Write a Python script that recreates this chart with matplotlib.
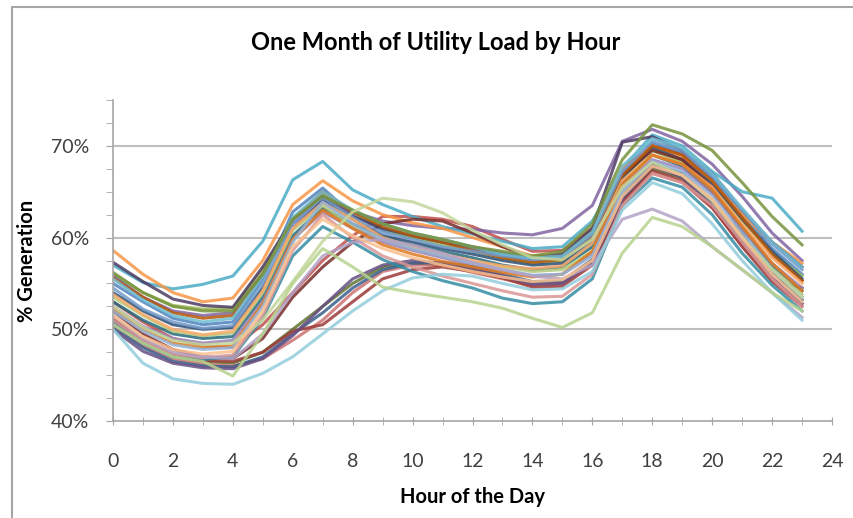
import matplotlib
matplotlib.use("Agg")
import matplotlib.pyplot as plt
from matplotlib.patches import Rectangle
from matplotlib.ticker import MultipleLocator, FuncFormatter

hours = list(range(24))

# Daily load profiles (% of generation), one list per day
day01 = [55.0,53.0,51.2,50.5,50.8,55.5,62.8,65.4,62.5,60.8,60.0,59.5,58.8,58.0,57.5,57.8,60.0,67.0,70.3,69.2,66.5,62.5,58.8,56.0]
day02 = [53.0,50.8,49.0,48.2,48.0,50.5,54.0,57.5,60.2,62.3,62.3,62.0,61.2,59.8,58.5,58.6,61.0,67.5,70.0,69.0,66.0,62.0,58.0,55.3]
day03 = [56.0,54.0,52.6,52.2,52.3,56.5,62.0,64.8,62.8,61.0,60.0,59.2,58.5,57.8,57.2,57.5,60.0,66.5,69.5,68.2,65.5,61.8,58.3,55.8]
day04 = [55.8,53.5,52.0,51.5,51.8,56.0,61.5,64.2,62.8,61.8,61.3,61.0,60.9,60.5,60.3,61.0,63.5,70.5,71.8,70.5,68.0,64.5,60.5,57.5]
day05 = [57.0,55.1,54.4,54.9,55.8,59.6,66.3,68.3,65.2,63.6,62.3,61.2,60.4,59.6,58.8,59.0,61.8,67.5,71.2,70.0,67.2,65.0,64.3,60.7]
day06 = [58.6,56.0,54.0,53.0,53.4,57.5,63.6,66.2,64.0,62.5,61.6,61.0,60.0,59.0,58.0,58.2,61.0,67.5,70.0,68.8,66.0,62.5,59.5,57.2]
day07 = [54.0,52.0,50.5,50.0,50.2,54.5,61.0,64.0,62.0,60.2,59.5,58.8,58.2,57.5,57.0,57.2,59.5,66.5,69.8,68.5,65.8,62.0,58.5,55.5]
day08 = [52.0,49.5,47.8,47.0,46.8,49.0,53.5,56.8,59.5,61.5,62.0,61.8,60.5,59.0,57.8,58.0,60.5,66.8,69.5,68.5,65.5,60.5,55.4,54.5]
day09 = [51.0,48.5,47.0,46.5,46.3,47.5,50.0,52.5,55.0,56.8,57.2,57.0,56.5,55.8,55.0,55.2,57.5,64.0,67.5,66.5,63.8,60.0,56.5,53.5]
day10 = [57.3,55.2,53.3,52.6,52.4,56.8,62.0,64.5,62.3,61.0,60.2,59.5,59.0,58.3,57.8,58.2,61.0,70.4,71.0,69.5,67.0,63.0,59.5,56.8]
day11 = [53.0,51.0,49.5,49.0,49.2,53.5,60.2,63.2,61.5,60.0,59.2,58.5,57.8,57.0,56.5,56.8,59.0,66.0,69.0,67.8,65.0,61.0,57.0,54.2]
day12 = [55.6,53.5,51.8,51.2,51.5,56.0,62.0,65.0,62.8,61.2,60.2,59.5,58.6,57.8,57.3,57.6,60.2,66.8,70.0,69.0,66.2,62.2,58.2,55.3]
day13 = [54.5,52.2,50.8,50.1,50.4,55.0,61.5,64.4,62.2,60.5,59.8,59.0,58.5,58.0,57.6,57.8,60.3,67.2,70.5,69.5,66.8,63.0,59.3,56.5]
day14 = [50.5,48.2,46.8,46.2,46.0,46.8,48.8,51.0,54.0,56.3,57.0,57.0,56.2,55.5,54.8,55.0,57.2,63.8,67.0,66.0,63.2,59.2,55.5,52.8]
day15 = [53.5,51.5,49.8,49.3,49.6,54.0,60.8,63.5,61.2,59.8,58.8,58.0,57.3,56.8,56.3,56.5,58.5,65.0,68.0,66.8,64.0,60.2,56.6,53.8]
day16 = [52.5,50.3,49.0,48.5,48.8,53.0,59.8,62.8,61.0,59.5,58.6,57.8,57.0,56.4,55.8,56.0,58.2,65.5,68.5,67.5,64.8,61.0,57.2,54.5]
day17 = [55.5,53.2,51.5,50.8,51.2,55.8,62.2,65.0,63.0,61.5,60.5,59.8,59.0,58.2,57.8,58.0,60.6,67.8,70.8,69.8,67.0,63.2,59.5,56.8]
day18 = [53.8,51.6,50.0,49.4,49.8,54.2,61.0,63.8,62.0,60.0,59.0,58.2,57.5,56.9,56.6,56.9,59.4,66.2,69.0,68.0,65.5,61.5,57.8,55.0]
day19 = [50.2,48.0,46.5,46.0,45.9,47.0,49.5,51.8,54.5,56.5,57.2,57.3,56.8,56.0,55.2,55.3,57.6,64.5,68.0,67.0,64.0,60.0,56.3,53.2]
day20 = [51.2,48.8,47.2,46.6,46.5,47.5,49.8,50.5,53.0,55.5,56.5,56.8,56.3,55.6,54.6,54.7,57.0,63.8,67.3,66.2,63.3,59.0,55.2,52.5]
day21 = [56.2,54.0,52.5,52.0,52.0,56.0,62.0,64.5,63.0,61.5,60.5,59.8,59.0,58.5,58.0,58.5,61.5,68.5,72.3,71.3,69.5,66.0,62.3,59.2]
day22 = [50.0,47.6,46.3,45.8,45.7,46.8,49.3,52.5,55.5,57.0,57.5,57.2,56.6,55.8,54.9,55.0,57.3,64.2,67.8,66.6,63.6,59.6,55.8,52.8]
day23 = [50.8,48.5,47.0,46.7,47.0,51.2,58.0,61.2,59.5,57.6,56.3,55.3,54.5,53.4,52.8,53.0,55.5,63.5,66.5,65.5,62.5,58.3,54.8,52.0]
day24 = [52.3,50.0,48.5,48.0,48.2,52.8,59.8,63.0,61.0,59.2,58.2,57.4,56.8,56.2,55.7,56.0,58.5,65.8,69.0,68.0,65.2,61.2,57.2,54.2]
day25 = [52.0,49.8,48.3,47.8,48.0,52.5,59.5,63.9,61.5,59.8,58.8,58.0,57.2,56.5,55.9,56.0,58.0,65.0,68.3,67.2,64.5,60.5,56.5,53.5]
day26 = [51.0,48.8,47.3,46.9,47.2,51.5,58.6,62.5,60.0,58.0,56.8,55.8,55.0,54.2,53.5,53.6,56.0,63.5,67.0,66.0,63.5,59.5,55.5,52.5]
day27 = [52.5,50.2,48.8,48.3,48.5,51.0,55.2,59.6,62.8,64.3,63.9,62.7,60.8,59.2,57.8,57.6,59.8,65.5,68.2,66.8,64.0,60.0,56.5,53.5]
day28 = [51.5,49.0,47.5,47.0,46.8,49.5,54.0,58.0,59.5,59.8,59.2,58.3,57.3,56.5,55.8,55.5,57.0,62.0,63.1,61.8,59.0,56.5,54.0,51.3]
day29 = [50.0,46.3,44.6,44.1,44.0,45.2,47.0,49.5,52.0,54.2,55.6,56.0,55.8,55.0,54.3,54.4,56.3,63.0,66.0,64.8,61.5,57.5,54.0,51.0]
day30 = [51.5,49.2,47.8,47.3,47.6,52.0,59.0,62.0,60.2,58.8,57.8,57.0,56.3,55.7,55.2,55.4,57.5,64.5,67.8,66.8,64.2,60.0,56.0,53.0]
day31 = [50.5,48.5,47.0,46.5,44.9,49.5,55.0,58.8,56.8,54.6,54.0,53.5,53.0,52.3,51.2,50.2,51.8,58.3,62.2,61.2,59.0,56.5,54.0,52.0]

days = [day01, day02, day03, day04, day05, day06, day07, day08, day09, day10,
        day11, day12, day13, day14, day15, day16, day17, day18, day19, day20,
        day21, day22, day23, day24, day25, day26, day27, day28, day29, day30, day31]

colors = ["#4F81BD", "#C0504D", "#9BBB59", "#8064A2", "#4BACC6", "#F79646",
          "#2C4D75", "#772C2A", "#5F7530", "#4D3B62", "#276A7C", "#B65708",
          "#729ACA", "#CD7371", "#AFC97A", "#9983B5", "#6FBDD1", "#F9AB6B",
          "#3A5F8B", "#9C3A38", "#77933C", "#664F83", "#358CA3", "#E07A1F",
          "#95B3D7", "#D99694", "#C3D69B", "#B3A2C7", "#93CDDD", "#FAC090",
          "#B7D38E"]

title = "One Month of Utility Load by Hour"
xlabel = "Hour of the Day"
ylabel = "% Generation"

plt.rcParams['font.family'] = ['Lato', 'DejaVu Sans']

fig = plt.figure(figsize=(8.54, 5.18), dpi=100)
ax = fig.add_axes([113/854, (518-421)/518, (832-113)/854, (421-100)/518])

for y in (50, 60, 70):
    ax.axhline(y / 100, color="#BFBFBF", lw=1.5, zorder=1)

for vals, c in zip(days, colors):
    ax.plot(hours, [v / 100 for v in vals], color=c, lw=2.2, alpha=0.85,
            solid_joinstyle="round", zorder=2)

ax.set_xlim(0, 24)
ax.set_ylim(0.40, 0.75)
ax.xaxis.set_major_locator(MultipleLocator(2))
ax.xaxis.set_minor_locator(MultipleLocator(1))
ax.yaxis.set_major_locator(MultipleLocator(0.10))
ax.yaxis.set_minor_locator(MultipleLocator(0.025))
ax.yaxis.set_major_formatter(FuncFormatter(lambda v, p: f"{v*100:.0f}%"))

for s in ("top", "right"):
    ax.spines[s].set_visible(False)
for s in ("left", "bottom"):
    ax.spines[s].set_color("#A6A6A6")
    ax.spines[s].set_linewidth(1.2)

ax.tick_params(axis="x", which="both", direction="inout", length=6, color="#A6A6A6",
               labelsize=14, labelcolor="#404040", pad=20)
ax.tick_params(axis="y", which="both", direction="out", length=5, color="#A6A6A6",
               labelsize=14, labelcolor="#404040", pad=12)

ax.set_xlabel(xlabel, fontsize=14.5, fontweight="bold", color="#000000", labelpad=12)
ax.set_ylabel(ylabel, fontsize=14.5, fontweight="bold", color="#000000", labelpad=10)

fig.text(436/854, 1 - 43/518, title, ha="center", va="center",
         fontsize=17, fontweight="bold", color="#000000")

fig.patches.append(Rectangle((12/854, -0.05), 1.0, 1 - 7/518 + 0.05,
                             transform=fig.transFigure, fill=False,
                             edgecolor="#A6A6A6", lw=1.5))

fig.savefig("out.png", dpi=100)
